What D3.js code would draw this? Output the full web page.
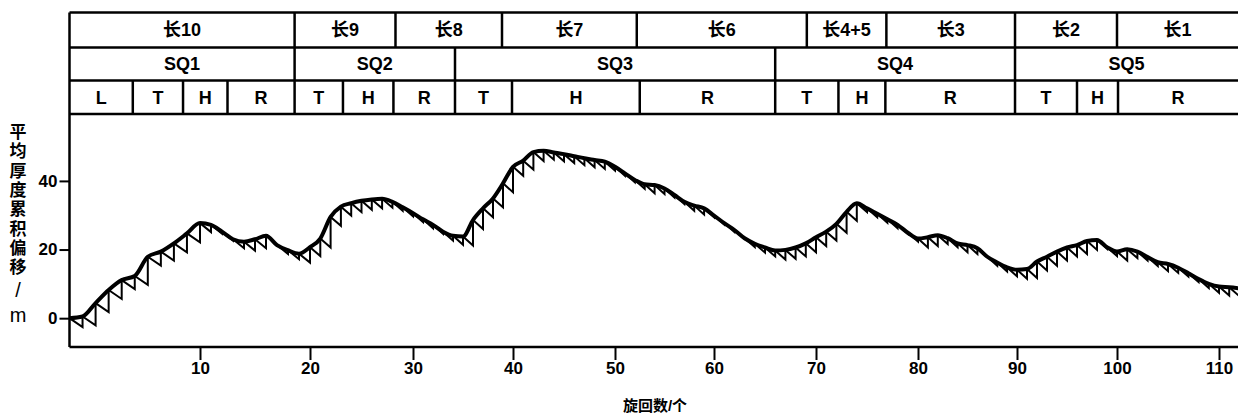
<!DOCTYPE html>
<html>
<head>
<meta charset="utf-8">
<script src="https://cdn.jsdelivr.net/npm/d3@7"></script>
<style>
  body { margin: 0; background: #fff; }
  text { font-family: "Liberation Sans", "Noto Sans CJK SC", sans-serif; fill: #000; }
</style>
</head>
<body>
<svg id="chart" width="1238" height="417"></svg>
<script>
// cumulative departure from mean cycle thickness, one value per cycle (0..112)
var offset = [0, 0.5, 4.4, 8.2, 11.1, 12.3, 17.9, 19.4, 21.8, 24.7,
  27.7, 27.2, 25.2, 23.0, 22.3, 23.0, 24.0, 21.3, 19.8, 18.8,
  20.7, 23.2, 29.5, 32.5, 33.5, 34.2, 34.6, 34.8, 33.9, 32.3,
  30.6, 28.8, 27.2, 25.2, 24.0, 23.8, 28.6, 32.0, 34.9, 39.3,
  44.1, 45.9, 48.4, 48.8, 48.3, 47.8, 47.2, 46.6, 46.1, 45.6,
  44.1, 42.2, 40.3, 39.0, 38.8, 37.8, 35.9, 33.9, 32.8, 32.0,
  29.9, 27.7, 25.7, 23.3, 21.7, 20.6, 19.7, 19.9, 20.6, 21.8,
  23.6, 25.2, 27.5, 31.0, 33.5, 32.0, 30.4, 28.8, 27.2, 24.9,
  23.2, 23.6, 24.2, 23.3, 21.8, 21.3, 20.4, 17.9, 16.2, 14.8,
  14.1, 14.3, 16.5, 17.9, 19.4, 20.6, 21.3, 22.5, 22.8, 20.7,
  19.4, 20.1, 19.4, 17.8, 16.3, 15.8, 14.7, 13.1, 11.4, 10.0,
  9.2, 9.0, 8.7];
var meanDrop = 2.6;   // mean cycle thickness (subsidence per cycle)

var xTicks = [10, 20, 30, 40, 50, 60, 70, 80, 90, 100, 110];
var yTicks = [0, 20, 40];

var stageNames = ["长10", "长9", "长8", "长7", "长6", "长4+5", "长3", "长2", "长1"];
var stageStart = [0, 18.6, 28.3, 38.9, 52.2, 69.1, 76.9, 89.8, 100];
var seqNames = ["SQ1", "SQ2", "SQ3", "SQ4", "SQ5"];
var seqStart = [0, 18.6, 34.2, 66, 89.8];
var tractNames = ["L", "T", "H", "R", "T", "H", "R", "T", "H", "R", "T", "H", "R", "T", "H", "R"];
var tractStart = [0, 4.85, 8.7, 12.5, 18.6, 23.2, 28.1, 34.2, 39.9, 52.5, 66, 72.2, 76.8, 89.8, 96, 100.1];

var yTitle = ["平", "均", "厚", "度", "累", "积", "偏", "移", "/", "m"];

var svg = d3.select("#chart"),
    width = +svg.attr("width");

var plotTop = 114, plotBottom = 347;

// the printed axis is not quite uniform, so calibrate on each tick
var x = d3.scaleLinear()
  .domain([0].concat(xTicks))
  .range([69.5, 200, 310, 413, 513, 615, 714, 816, 918, 1017, 1117, 1219]);
var xEnd = x.invert(width);

var y = d3.scaleLinear()
  .domain([-8.4, 59.5])
  .range([plotBottom, plotTop]);

// header band
var rowY = [12.5, 47.5, 80.5, plotTop];
var rows = [
  {names: stageNames, start: stageStart},
  {names: seqNames, start: seqStart},
  {names: tractNames, start: tractStart}
];

var header = svg.append("g").attr("class", "header");

rowY.forEach(function(yy) {
  header.append("line")
    .attr("x1", x(0)).attr("x2", width)
    .attr("y1", yy).attr("y2", yy)
    .attr("stroke", "#000").attr("stroke-width", 2.5);
});

rows.forEach(function(row, r) {
  var cells = row.names.map(function(n, i) {
    return {name: n, a: row.start[i], b: i + 1 < row.start.length ? row.start[i + 1] : xEnd};
  });
  var g = header.append("g");
  g.selectAll("line").data(cells.slice(1)).enter().append("line")
    .attr("x1", function(d) { return x(d.a); })
    .attr("x2", function(d) { return x(d.a); })
    .attr("y1", rowY[r]).attr("y2", rowY[r + 1])
    .attr("stroke", "#000").attr("stroke-width", 2.5);
  g.selectAll("text").data(cells).enter().append("text")
    .attr("x", function(d) { return (x(d.a) + x(d.b)) / 2; })
    .attr("y", (rowY[r] + rowY[r + 1]) / 2)
    .attr("dy", "0.36em")
    .attr("text-anchor", "middle")
    .attr("font-size", 18)
    .attr("font-weight", "bold")
    .text(function(d) { return d.name; });
});

// frame
svg.append("line")
  .attr("x1", x(0)).attr("x2", x(0))
  .attr("y1", rowY[0]).attr("y2", plotBottom)
  .attr("stroke", "#000").attr("stroke-width", 2.5);
svg.append("line")
  .attr("x1", x(0)).attr("x2", width)
  .attr("y1", plotBottom).attr("y2", plotBottom)
  .attr("stroke", "#000").attr("stroke-width", 2.5);

// axes
var xAxis = svg.append("g")
  .attr("transform", "translate(0," + plotBottom + ")")
  .call(d3.axisBottom(x).tickValues(xTicks).tickSize(13).tickSizeOuter(0).tickPadding(2));
var yAxis = svg.append("g")
  .attr("transform", "translate(" + x(0) + ",0)")
  .call(d3.axisLeft(y).tickValues(yTicks).tickSize(10).tickSizeOuter(0).tickPadding(2));

[xAxis, yAxis].forEach(function(a) {
  a.select(".domain").remove();
  a.selectAll(".tick line").attr("stroke", "#000").attr("stroke-width", 2);
  a.selectAll(".tick text")
    .attr("font-size", 17)
    .attr("font-weight", "bold")
    .attr("font-family", "Liberation Sans, sans-serif")
    .attr("fill", "#000");
});

// axis titles
svg.append("text")
  .attr("x", 655)
  .attr("y", 411)
  .attr("text-anchor", "middle")
  .attr("font-size", 15)
  .attr("font-weight", "bold")
  .text("旋回数/个");

svg.append("g").selectAll("text").data(yTitle).enter().append("text")
  .attr("x", 18)
  .attr("y", function(d, i) { return i < 8 ? 138 + i * 19.3 : (i === 8 ? 297 : 322); })
  .attr("text-anchor", "middle")
  .attr("font-size", function(d, i) { return i < 8 ? 17 : 20; })
  .attr("font-weight", function(d, i) { return i < 8 ? "bold" : "normal"; })
  .text(function(d) { return d; });

// Fischer sawtooth: subsidence diagonal then vertical cycle thickness
var teeth = offset.slice(1).map(function(v, i) {
  return {i: i + 1, prev: offset[i], cur: v};
});
svg.append("g").selectAll("path").data(teeth).enter().append("path")
  .attr("d", function(d) {
    return "M" + x(d.i - 1) + "," + y(d.prev) +
           "L" + x(d.i) + "," + y(d.prev - meanDrop) +
           "L" + x(d.i) + "," + y(d.cur);
  })
  .attr("fill", "none")
  .attr("stroke", "#000")
  .attr("stroke-width", 2)
  .attr("stroke-linejoin", "miter");

// cumulative curve
var line = d3.line()
  .x(function(d, i) { return x(i); })
  .y(function(d) { return y(d); })
  .curve(d3.curveMonotoneX);

svg.append("path")
  .datum(offset)
  .attr("d", line)
  .attr("fill", "none")
  .attr("stroke", "#000")
  .attr("stroke-width", 4)
  .attr("stroke-linejoin", "round");
</script>
</body>
</html>
